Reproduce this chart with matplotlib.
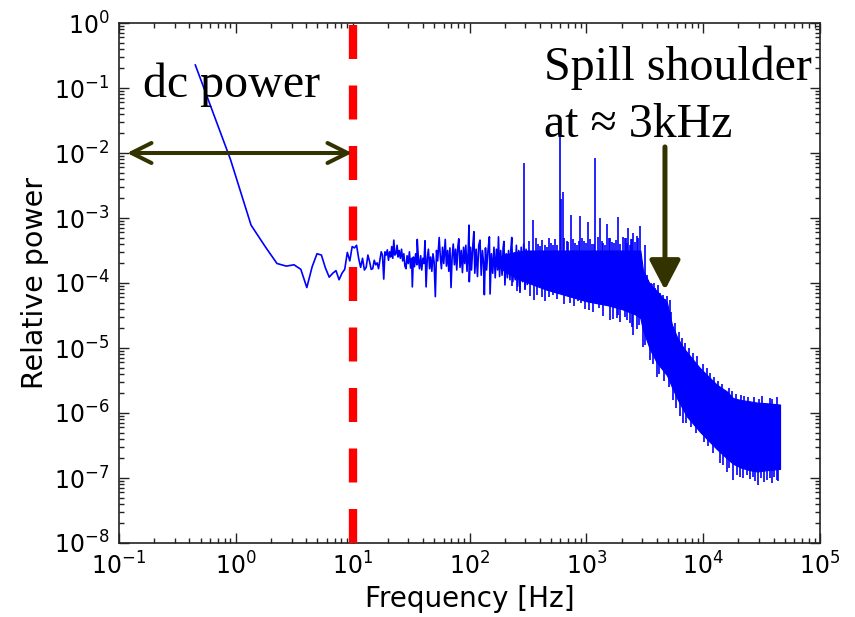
import numpy as np
import matplotlib
matplotlib.use("Agg")
import matplotlib.pyplot as plt
from matplotlib.ticker import FixedLocator, LogLocator, NullFormatter

# ---------------- data ----------------
x_tick_values = [1e-1, 1e0, 1e1, 1e2, 1e3, 1e4, 1e5]
y_tick_values = [1e-8, 1e-7, 1e-6, 1e-5, 1e-4, 1e-3, 1e-2, 1e-1, 1e0]

# low-frequency part of the spectrum (Hz, log10 of relative power)
lf_freq = [0.45, 0.9, 1.35, 1.8, 2.25, 2.7, 3.15, 3.6, 4.05, 4.5, 4.95, 5.4,
           5.85, 6.3, 6.75, 7.2, 7.65, 8.1, 8.55, 9.0, 9.45, 9.9, 10.35, 10.8,
           11.25, 11.7, 12.15, 12.6, 13.05, 13.5, 13.95, 14.4, 14.85, 15.3,
           15.75, 16.2, 16.65, 17.1, 17.55, 18.0, 18.45, 18.9, 19.35, 19.8,
           20.25, 20.7, 21.15, 21.6, 22.05, 22.5, 22.95]
lf_log_power = [-0.646, -2.10, -3.11, -3.45, -3.70, -3.74, -3.72, -3.79, -4.07,
                -3.75, -3.55, -3.57, -3.77, -3.91, -3.85, -3.81, -3.95, -3.85,
                -3.79, -3.53, -3.66, -3.44, -3.46, -3.42, -3.62, -3.76, -3.62,
                -3.80, -3.76, -3.57, -3.67, -3.79, -3.78, -3.65, -3.72, -3.69,
                -3.78, -3.65, -3.52, -3.57, -3.94, -3.52, -3.57, -3.49, -3.65,
                -3.52, -3.60, -3.44, -3.62, -3.34, -3.57]

# noisy mid-frequency part
mid_freq = [23.5, 24.0, 24.5, 25.0, 25.6, 26.2, 26.8, 27.4, 28.0, 28.6, 29.2,
            29.9, 30.6, 31.3, 32.0, 32.4, 33.1, 33.8, 34.6, 35.4, 35.7, 36.5,
            37.3, 38.2, 39.0, 39.9, 40.8, 41.6, 42.5, 43.5, 44.5, 45.5, 46.5,
            47.6, 48.7, 49.8, 51.0, 52.2, 53.4, 55.0, 56.2, 57.5, 58.8, 60.2,
            62.0, 63.5, 65.0, 66.5, 68.0, 69.5, 71.0, 72.6, 74.3, 76.0, 77.8,
            79.5, 81.0, 83.0, 85.0, 87.0, 89.0, 91.0, 93.0, 95.2, 97.4, 99.0,
            99.6, 102, 104, 107, 109, 111, 114, 117, 120, 123, 126, 129, 132,
            134, 137, 140, 144, 148, 150, 154, 158, 162, 166, 170, 174, 177,
            181, 185, 190, 194, 197, 201, 206, 211, 216, 222, 226, 230, 235,
            240, 246, 252, 258, 264, 270, 277, 284, 291, 298, 305, 312]
mid_log_power = [-3.55, -3.42, -3.60, -3.50, -3.62, -3.48, -3.66, -3.55, -3.74,
                 -3.78, -3.58, -3.70, -3.52, -3.77, -3.62, -4.06, -3.60, -3.75,
                 -3.55, -3.72, -3.33, -3.62, -3.78, -3.58, -3.80, -3.62, -3.70,
                 -3.35, -4.06, -3.62, -3.48, -3.78, -3.60, -3.82, -3.55, -3.68,
                 -4.21, -3.50, -3.66, -3.30, -3.58, -3.78, -3.45, -3.70, -3.33,
                 -3.74, -3.50, -3.82, -3.46, -4.07, -3.60, -3.40, -3.72, -3.48,
                 -3.80, -3.44, -3.32, -3.76, -3.50, -3.84, -3.45, -3.70, -3.42,
                 -3.82, -3.52, -3.11, -3.98, -3.45, -3.80, -3.40, -3.21, -3.85,
                 -3.48, -3.90, -3.42, -3.34, -3.88, -3.50, -3.70, -4.18, -3.46,
                 -3.80, -3.50, -3.29, -4.17, -3.55, -3.85, -3.45, -3.92, -3.48,
                 -3.80, -3.29, -3.90, -3.50, -3.88, -3.46, -3.36, -4.03, -3.55,
                 -3.92, -3.50, -3.95, -3.48, -3.30, -3.98, -3.55, -3.95, -3.42,
                 -4.05, -3.50, -4.12, -3.45, -3.98, -3.40, -4.08, -3.48, -4.02]

# dense noise band (envelope of the solid blue region)
band_freq = [170, 200, 250, 300, 450, 700, 1000, 1500, 2000, 2600, 2900, 3050,
             3500, 4000, 4900, 5400, 6000, 6800, 7300, 9400, 13000, 16000,
             18000, 21000, 25000, 29000, 35000, 45500]
band_log_high = [-3.62, -3.56, -3.52, -3.50, -3.50, -3.50, -3.50, -3.50, -3.50,
                 -3.50, -3.50, -3.80, -4.02, -4.12, -4.30, -4.64, -4.84, -5.00,
                 -5.07, -5.31, -5.56, -5.67, -5.77, -5.80, -5.82, -5.84, -5.85,
                 -5.87]
band_log_low = [-3.72, -3.82, -3.92, -3.98, -4.10, -4.20, -4.28, -4.34, -4.40,
                -4.48, -4.54, -4.72, -5.02, -5.22, -5.42, -5.60, -5.78, -5.96,
                -6.06, -6.29, -6.55, -6.70, -6.78, -6.84, -6.88, -6.90, -6.88,
                -6.86]

# upward spikes (lines from base to top)
spike_freq = [294, 348, 402, 458, 516, 596, 610, 628, 680, 745, 800, 890, 960,
              1040, 1120, 1194, 1309, 1400, 1494, 1600, 1720, 1879, 2074, 2180,
              2287, 2400, 2525, 2700, 2878, 3175, 3560, 3793, 4130, 4720, 5200]
spike_log_top = [-2.16, -3.03, -3.43, -3.44, -3.42, -1.72, -2.70, -2.60, -3.35,
                 -2.95, -3.38, -2.97, -3.35, -3.06, -3.40, -2.08, -3.00, -3.38,
                 -3.09, -3.30, -3.38, -2.99, -3.29, -3.30, -3.16, -3.32, -3.23,
                 -3.28, -3.12, -3.42, -4.00, -4.00, -4.03, -4.24, -4.26]
spike_log_base = [-3.6, -3.6, -3.6, -3.6, -3.6, -3.6, -3.6, -3.6, -3.6, -3.6,
                  -3.6, -3.6, -3.6, -3.6, -3.6, -3.6, -3.6, -3.6, -3.6, -3.6,
                  -3.6, -3.6, -3.6, -3.6, -3.6, -3.6, -3.6, -3.6, -3.6, -4.0,
                  -4.2, -4.3, -4.3, -4.5, -4.7]

# small ragged peaks along the top edge of the band
edge_freq = [325, 370, 385, 420, 440, 480, 500, 540, 560, 650, 700, 770, 830,
             860, 920, 1000, 1080, 1160, 1250, 1350, 1450, 1550, 1650, 1780,
             1950, 2130, 2250, 2350, 2470, 2600, 2780, 3300, 3400, 3650, 3900,
             4250, 4500, 4900, 5300, 5700, 6200, 6600, 7000, 7600, 8200, 8800,
             10000, 10700, 11500, 12500, 13500, 14500, 16500, 17500, 19000,
             21000, 22500, 24000, 27500, 30000, 32000, 37000, 39000, 43000]
edge_log_top = [-3.36, -3.30, -3.40, -3.34, -3.42, -3.30, -3.38, -3.33, -3.41,
                -3.30, -3.37, -3.32, -3.42, -3.35, -3.30, -3.38, -3.33, -3.40,
                -3.29, -3.36, -3.42, -3.31, -3.37, -3.34, -3.40, -3.30, -3.38,
                -3.42, -3.33, -3.37, -3.30, -3.88, -3.96, -4.02, -4.08, -4.15,
                -4.18, -4.20, -4.45, -4.62, -4.75, -4.85, -4.92, -5.00, -5.08,
                -5.12, -5.25, -5.30, -5.38, -5.45, -5.50, -5.55, -5.62, -5.66,
                -5.70, -5.72, -5.74, -5.75, -5.76, -5.78, -5.74, -5.77, -5.79,
                -5.76]
edge_log_base = [-3.6, -3.6, -3.6, -3.6, -3.6, -3.6, -3.6, -3.6, -3.6, -3.6,
                 -3.6, -3.6, -3.6, -3.6, -3.6, -3.6, -3.6, -3.6, -3.6, -3.6,
                 -3.6, -3.6, -3.6, -3.6, -3.6, -3.6, -3.6, -3.6, -3.6, -3.6,
                 -3.6, -4.1, -4.1, -4.2, -4.2, -4.3, -4.3, -4.4, -4.7, -4.9,
                 -5.0, -5.1, -5.1, -5.2, -5.3, -5.3, -5.4, -5.5, -5.5, -5.6,
                 -5.6, -5.7, -5.7, -5.8, -5.8, -5.9, -5.9, -5.9, -5.9, -5.9,
                 -5.9, -5.9, -5.9, -5.9]

# downward dips (lines from base to bottom)
dip_freq = [230, 253, 270, 300, 330, 359, 380, 415, 440, 480, 521, 560, 600,
            650, 725, 780, 850, 900, 980, 1061, 1150, 1291, 1400, 1594, 1700,
            1820, 1879, 1950, 2143, 2218, 2350, 2450, 2525, 2700, 2800, 3076,
            3200, 3510, 3700, 4000, 4200, 4600, 5100, 5560, 5900, 6300, 6770,
            7100, 7900, 8600, 10200, 11000, 12200, 13900, 14800, 15900, 16800,
            18100, 19500, 20500, 22000, 23600, 25000, 26500, 28000, 29700,
            31000, 33000, 35000, 37000, 38500, 40000, 42700, 44000]
dip_log_bottom = [-4.05, -4.13, -4.15, -4.10, -4.20, -4.26, -4.18, -4.21, -4.28,
                  -4.22, -4.18, -4.25, -4.15, -4.32, -4.31, -4.35, -4.28, -4.30,
                  -4.40, -4.42, -4.45, -4.39, -4.50, -4.57, -4.55, -4.54, -4.49,
                  -4.60, -4.52, -4.57, -4.62, -4.68, -4.80, -4.70, -4.65, -4.98,
                  -4.95, -5.18, -5.25, -5.44, -5.40, -5.50, -5.60, -5.80, -5.92,
                  -6.05, -6.16, -6.15, -6.22, -6.30, -6.45, -6.50, -6.62, -6.77,
                  -6.80, -6.90, -6.85, -7.03, -6.95, -6.98, -7.00, -6.95, -7.02,
                  -6.98, -7.05, -7.11, -7.00, -7.06, -7.03, -7.00, -7.08, -6.98,
                  -7.03, -7.05]
dip_log_base = [-3.8, -3.85, -3.85, -3.9, -3.9, -3.9, -3.9, -3.95, -3.95, -4.0,
                -4.0, -4.0, -4.0, -4.1, -4.1, -4.1, -4.1, -4.1, -4.2, -4.2,
                -4.2, -4.2, -4.2, -4.25, -4.25, -4.3, -4.3, -4.3, -4.3, -4.3,
                -4.35, -4.35, -4.4, -4.4, -4.4, -4.6, -4.7, -4.9, -5.0, -5.1,
                -5.2, -5.3, -5.35, -5.5, -5.7, -5.85, -5.9, -6.0, -6.0, -6.1,
                -6.2, -6.3, -6.4, -6.5, -6.6, -6.6, -6.7, -6.7, -6.75, -6.8,
                -6.8, -6.8, -6.8, -6.8, -6.8, -6.8, -6.8, -6.8, -6.8, -6.8,
                -6.8, -6.8, -6.8, -6.8]

# ---------------- figure ----------------
W, H = 855, 617
fig = plt.figure(figsize=(W / 100, H / 100), dpi=100)
ax = fig.add_axes([119 / W, 74 / H, 701 / W, 520 / H])

blue = "#0000ff"
line_f = np.concatenate([lf_freq, mid_freq])
line_p = 10.0 ** np.concatenate([lf_log_power, mid_log_power])

ax.fill_between(band_freq, 10.0 ** np.array(band_log_low),
                10.0 ** np.array(band_log_high), facecolor=blue,
                edgecolor=blue, lw=0.8, zorder=2)
ax.plot(line_f, line_p, color=blue, lw=1.2, zorder=2)
for fr, top, base in ((spike_freq, spike_log_top, spike_log_base),
                      (edge_freq, edge_log_top, edge_log_base),
                      (dip_freq, dip_log_bottom, dip_log_base)):
    ax.vlines(fr, 10.0 ** np.array(base), 10.0 ** np.array(top),
              color=blue, lw=1.2, zorder=2)

# red dashed vertical line at 10 Hz
ax.axvline(10, color="#ff0000", lw=6, linestyle=(0, (4.08, 3.18)), zorder=3)

ax.set_xscale("log")
ax.set_yscale("log")
ax.set_xlim(1e-1, 1e5)
ax.set_ylim(1e-8, 1e0)

ax.xaxis.set_major_locator(FixedLocator(x_tick_values))
ax.yaxis.set_major_locator(FixedLocator(y_tick_values))
for axis in (ax.xaxis, ax.yaxis):
    axis.set_minor_locator(LogLocator(base=10, subs=np.arange(2, 10), numticks=100))
    axis.set_minor_formatter(NullFormatter())

ax.tick_params(which="both", direction="in", top=True, right=True,
               labelsize=17, width=1.0, color="#222222")
ax.tick_params(which="major", length=7, pad=7)
ax.tick_params(which="minor", length=3.5)
for s in ax.spines.values():
    s.set_linewidth(1.2)
    s.set_color("#222222")

ax.set_xlabel("Frequency [Hz]", fontsize=20, labelpad=4)
ax.set_ylabel("Relative power", fontsize=20.5, labelpad=3)

# annotations
olive = "#333300"
serif = ["Liberation Serif", "DejaVu Serif"]
ax.annotate("", xy=(0.117, 1e-2), xytext=(9.87, 1e-2),
            arrowprops=dict(arrowstyle="<->,head_length=14.4,head_width=7.2",
                            color=olive, lw=2.9, mutation_scale=1,
                            shrinkA=0, shrinkB=0), zorder=4)
ax.text(0.16, 0.0727, "dc power", family=serif, fontsize=34.5,
        ha="left", va="baseline", zorder=5)

ax.annotate("", xy=(4710, 7.8e-5), xytext=(4710, 1.24e-2),
            arrowprops=dict(arrowstyle="-|>,head_length=18,head_width=9.4",
                            color=olive, lw=3.6, mutation_scale=1,
                            shrinkA=0, shrinkB=0), zorder=4)
ax.text(434, 0.1327, "Spill shoulder", family=serif, fontsize=34.5,
        ha="left", va="baseline", zorder=5)
ax.text(434, 0.0176, "at \u2248 3kHz", family=serif, fontsize=34.5,
        ha="left", va="baseline", zorder=5)

fig.savefig("out.png", dpi=100)
